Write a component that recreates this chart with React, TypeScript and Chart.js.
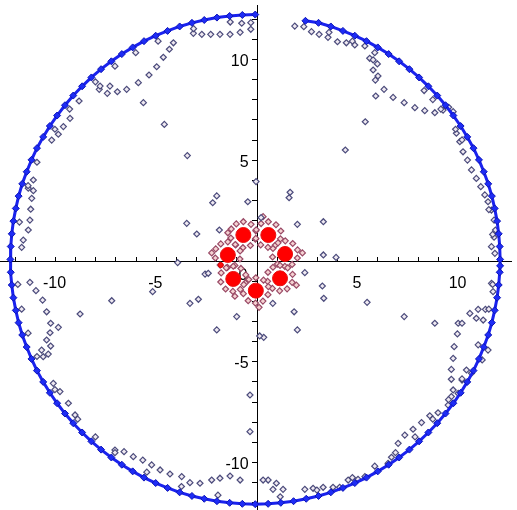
import React, { useEffect, useRef } from 'react';
import { Chart, registerables } from 'chart.js';

Chart.register(...registerables);

// Axis ranges (data units)
const X_MIN = -12.754;
const X_MAX = 12.6;
const Y_MIN = -12.357;
const Y_MAX = 12.705;

// Labelled ticks
const X_TICK_LABELS = [-10, -5, 5, 10];
const Y_TICK_LABELS = [-10, -5, 5, 10];
const ORIGIN_LABEL = [0];

// Blue filled points on the outer circle (counter-clockwise from the top)
const BLUE_RING: number[][] = [
  [-0.09, 12.23], [-0.73, 12.21], [-1.36, 12.16], [-1.99, 12.08], [-2.62, 11.96], [-3.23, 11.82],
  [-3.84, 11.64], [-4.44, 11.42], [-5.03, 11.18], [-5.61, 10.91], [-6.17, 10.6], [-6.71, 10.27],
  [-7.23, 9.91], [-7.74, 9.52], [-8.22, 9.11], [-8.68, 8.67], [-9.12, 8.21], [-9.53, 7.73],
  [-9.92, 7.22], [-10.28, 6.7], [-10.61, 6.16], [-10.92, 5.6], [-11.19, 5.02], [-11.43, 4.43],
  [-11.65, 3.83], [-11.83, 3.22], [-11.97, 2.61], [-12.09, 1.98], [-12.17, 1.35], [-12.22, 0.72],
  [-12.24, 0.08], [-12.22, -0.56], [-12.17, -1.19], [-12.09, -1.82], [-11.97, -2.45], [-11.83, -3.06],
  [-11.65, -3.67], [-11.43, -4.27], [-11.19, -4.86], [-10.92, -5.44], [-10.61, -6.0], [-10.28, -6.54],
  [-9.92, -7.06], [-9.53, -7.57], [-9.12, -8.05], [-8.68, -8.51], [-8.22, -8.95], [-7.74, -9.36],
  [-7.23, -9.75], [-6.71, -10.11], [-6.17, -10.44], [-5.61, -10.75], [-5.03, -11.02], [-4.44, -11.26],
  [-3.84, -11.48], [-3.23, -11.66], [-2.62, -11.8], [-1.99, -11.92], [-1.36, -12.0], [-0.73, -12.05],
  [-0.09, -12.07], [0.55, -12.05], [1.18, -12.0], [1.81, -11.92], [2.44, -11.8], [3.05, -11.66],
  [3.66, -11.48], [4.26, -11.26], [4.85, -11.02], [5.43, -10.75], [5.99, -10.44], [6.53, -10.11],
  [7.05, -9.75], [7.56, -9.36], [8.04, -8.95], [8.5, -8.51], [8.94, -8.05], [9.35, -7.57],
  [9.74, -7.06], [10.1, -6.54], [10.43, -6.0], [10.74, -5.44], [11.01, -4.86], [11.25, -4.27],
  [11.47, -3.67], [11.65, -3.06], [11.79, -2.45], [11.91, -1.82], [11.99, -1.19], [12.04, -0.56],
  [12.06, -0.24], [12.06, 0.08], [12.04, 0.72], [11.99, 1.35], [11.91, 1.98], [11.79, 2.61],
  [11.65, 3.22], [11.47, 3.83], [11.25, 4.43], [11.01, 5.02], [10.74, 5.6], [10.43, 6.16],
  [10.1, 6.7], [9.74, 7.22], [9.35, 7.73], [8.94, 8.21], [8.5, 8.67], [8.04, 9.11],
  [7.56, 9.52], [7.05, 9.91], [6.53, 10.27], [5.99, 10.6], [5.43, 10.91], [4.85, 11.18],
  [4.26, 11.42], [3.66, 11.64], [3.05, 11.82], [2.4, 11.92],
];

// Hollow diamonds lying in the blue band
const GRAY_BAND: number[][] = [
  [10.17, 6.01], [9.85, 6.54], [9.12, 7.54], [8.72, 8.01], [8.29, 8.46], [5.84, 10.34],
  [4.73, 10.91], [3.57, 11.35], [11.69, 1.32], [11.5, 2.55],
  [-1.33, 11.86], [-3.15, 11.53], [-4.91, 10.91], [-6.02, 10.34], [-7.05, 9.67], [-8.02, 8.89],
  [-9.3, 7.54], [-10.03, 6.54], [-10.92, 4.9], [-11.36, 3.74], [-11.79, 1.93],
  [-11.87, -1.16], [-11.68, -2.39], [-11.36, -3.58], [-10.92, -4.74], [-10.03, -6.38], [-8.9, -7.85],
  [-8.02, -8.73], [-7.05, -9.51], [-5.47, -10.48], [-3.75, -11.19], [-1.94, -11.62],
  [1.15, -11.7], [2.97, -11.37], [4.73, -10.75], [5.84, -10.18], [6.87, -9.51], [7.84, -8.73],
  [8.72, -7.85], [9.5, -6.88], [10.17, -5.85], [10.97, -4.16], [11.5, -2.39], [11.69, -1.16],
];

// Hollow diamonds inside the ring, upper left
const GRAY_NW: number[][] = [
  [-3.16, 11.3], [-2.74, 11.25], [-2.3, 11.25], [-1.84, 11.25], [-1.34, 11.25], [-0.84, 11.35],
  [-0.31, 11.5], [-0.76, 11.8], [-0.31, 11.83],
  [-4.15, 10.83], [-4.35, 10.51], [-4.65, 10.11], [-4.98, 9.64], [-5.36, 9.23], [-5.89, 8.85],
  [-6.47, 8.52], [-6.93, 8.4], [-7.43, 8.32], [-7.83, 8.52], [-7.3, 8.68], [-7.79, 8.68],
  [-5.64, 7.86], [-4.6, 6.78], [-3.46, 5.23],
  [-8.83, 7.94], [-9.28, 7.08], [-9.61, 6.67], [-9.86, 6.29], [-10.19, 6.0],
  [-11.1, 4.02], [-11.35, 3.61], [-11.1, 3.49], [-11.18, 3.11], [-11.23, 2.57], [-11.27, 2.03],
  [-11.35, 1.54], [-11.6, 1.04], [-11.68, 0.68],
];

// Hollow diamonds inside the ring, upper right
const GRAY_NE: number[][] = [
  [1.87, 11.66], [2.32, 11.63],
  [2.7, 11.38], [3.08, 11.25], [3.52, 11.1], [3.99, 10.88], [4.43, 10.83], [4.85, 10.72], [5.35, 10.67],
  [5.59, 10.06], [5.76, 9.98], [5.97, 9.78], [5.76, 9.48], [6.0, 9.18], [5.87, 8.98], [6.3, 8.52], [5.89, 8.19],
  [6.75, 8.12], [7.3, 7.86], [7.83, 7.61], [8.32, 7.46], [8.82, 7.36], [9.23, 7.49], [9.51, 7.63], [9.73, 7.41],
  [5.37, 6.91], [4.38, 5.51],
  [9.89, 6.34], [10.06, 5.92], [10.22, 5.42], [10.44, 5.01], [10.64, 4.52], [10.88, 4.1], [11.1, 3.69],
  [11.3, 3.28], [11.46, 2.94], [11.63, 2.53], [11.76, 2.03], [11.83, 1.54], [11.76, 1.18], [11.63, 0.71],
  [11.8, 0.38],
];

// Hollow diamonds inside the ring, lower right
const GRAY_SE: number[][] = [
  [3.29, 0.3], [3.92, 0.18], [2.37, -0.58], [3.24, -1.24], [3.31, -1.85], [1.84, -2.52], [2.0, -3.42],
  [0.33, -3.79], [0.13, -3.72], [5.46, -2.05], [7.3, -2.76], [8.82, -3.09],
  [9.98, -3.09], [10.17, -3.09], [9.94, -3.62], [9.78, -4.25], [9.73, -4.83], [9.64, -5.38], [9.64, -5.87],
  [9.73, -6.4], [9.64, -6.73], [9.48, -7.15],
  [10.56, -2.6], [10.97, -2.4], [11.33, -2.4], [10.88, -2.84], [11.22, -2.93],
  [11.63, -1.11], [11.71, -1.52], [11.46, -4.42], [11.17, -4.91], [10.64, -5.57], [10.39, -5.41],
  [10.17, -5.91], [9.98, -6.57],
  [8.98, -7.53], [8.57, -7.68], [8.16, -8.02], [7.74, -8.35], [7.33, -8.64], [7.0, -9.05], [6.67, -9.74],
  [6.5, -10.04], [5.35, -10.7], [5.01, -10.83], [4.52, -10.87], [4.1, -11.23], [3.77, -11.23], [3.28, -11.23],
  [2.78, -11.28], [2.37, -11.33], [1.29, -11.33], [0.79, -11.33], [0.96, -11.03], [0.55, -10.87], [0.3, -10.87],
];

// Hollow diamonds inside the ring, lower left
const GRAY_SW: number[][] = [
  [-5.18, -1.52], [-7.21, -1.97], [-8.78, -2.63], [-3.33, -2.1], [-2.91, -1.9], [-2.0, -3.42], [-1.01, -2.76],
  [-0.35, -6.65], [-0.35, -8.47],
  [-11.27, -1.06], [-10.97, -1.47], [-10.64, -1.94], [-10.44, -2.52], [-10.24, -3.09], [-9.86, -3.29],
  [-10.27, -3.56], [-10.44, -3.92], [-10.24, -4.22], [-10.69, -4.42], [-10.36, -4.62], [-10.61, -4.75],
  [-10.11, -6.07], [-9.78, -6.48], [-9.36, -7.06], [-9.03, -7.64],
  [-7.05, -9.38], [-6.6, -9.46], [-6.14, -9.71], [-5.67, -9.88], [-5.23, -10.12], [-4.81, -10.37],
  [-4.32, -10.57], [-3.74, -10.7], [-3.33, -11.0], [-2.83, -11.03], [-2.25, -10.87], [-1.84, -10.78],
  [-1.34, -10.67], [-0.84, -10.87],
];

// Hollow diamonds scattered near the centre
const GRAY_CENTER: number[][] = [
  [-0.05, 3.94], [-2.0, 3.23], [-2.2, 2.89], [-0.46, 2.94], [1.64, 3.41], [1.59, 3.14], [-3.49, 1.87],
  [-2.99, 1.34], [-1.87, 1.54], [3.29, 1.95], [2.0, 1.82], [-3.94, -0.08], [-2.58, -0.65], [0.78, -2.1],
  [0.2, 2.15], [-2.42, -0.61],
];

// Red filled clusters (seven centres)
const RED_BLOBS: number[][] = [
  [-0.68, 1.29], [0.56, 1.29], [1.39, 0.35], [-1.45, 0.3], [-1.18, -0.89], [1.14, -0.86], [-0.06, -1.47],
];
const RED_DOT: number[][] = [[-1.8, -0.2]];

// Small diamonds surrounding the red clusters
const RED_RING: number[][] = [
  [-1.28, 1.59], [-1.03, 1.84], [-0.68, 1.95], [-0.3, 1.82], [-0.06, 1.5], [-0.08, 1.08], [-0.33, 0.77],
  [-0.7, 0.66], [-1.06, 0.8], [-1.3, 1.14], [-1.45, 1.4],
  [-0.04, 1.55], [0.2, 1.86], [0.56, 1.95], [0.94, 1.8], [1.18, 1.49], [1.16, 1.1], [0.9, 0.78],
  [0.54, 0.68], [0.18, 0.8], [-0.06, 1.12], [0.3, 2.2],
  [0.79, 0.62], [1.04, 0.9], [1.4, 1.0], [1.77, 0.87], [2.01, 0.55], [2.0, 0.15], [1.74, -0.17],
  [1.38, -0.27], [1.01, -0.15], [0.77, 0.2], [2.25, 0.4],
  [-2.05, 0.6], [-1.8, 0.85], [-1.45, 0.95], [-1.08, 0.82], [-0.84, 0.5], [-0.85, 0.1], [-1.1, -0.22],
  [-1.47, -0.32], [-1.83, -0.2], [-2.07, 0.15], [-2.25, 0.4],
  [-1.78, -0.59], [-1.53, -0.34], [-1.18, -0.26], [-0.8, -0.37], [-0.56, -0.69], [-0.58, -1.09],
  [-0.83, -1.41], [-1.2, -1.51], [-1.56, -1.39], [-1.8, -1.04], [-1.1, -1.75],
  [0.54, -0.56], [0.79, -0.31], [1.14, -0.22], [1.52, -0.34], [1.76, -0.66], [1.74, -1.06],
  [1.49, -1.38], [1.12, -1.48], [0.76, -1.36], [0.52, -1.01], [1.95, -1.2],
  [-0.66, -1.17], [-0.41, -0.92], [-0.06, -0.83], [0.32, -0.95], [0.56, -1.27], [0.54, -1.67],
  [0.29, -1.99], [-0.08, -2.09], [-0.44, -1.97], [-0.68, -1.62], [0.1, -2.3],
];

const toPts = (a: number[][]) => a.map(([x, y]) => ({ x, y }));

export default function App() {
  const ref = useRef<HTMLCanvasElement>(null);

  useEffect(() => {
    document.body.style.margin = '0';
    const font = { family: "'Liberation Sans', Arial, sans-serif", size: 16 };
    const noPad = (s: any) => {
      s.paddingLeft = 0;
      s.paddingRight = 0;
      s.paddingTop = 0;
      s.paddingBottom = 0;
    };
    const zeroH = (s: any) => { s.height = 0; noPad(s); };
    const zeroW = (s: any) => { s.width = 0; noPad(s); };

    const grayStyle = {
      pointStyle: 'rectRot' as const,
      pointRadius: 3,
      pointBorderWidth: 1.2,
      pointBorderColor: '#4c4c7c',
      pointBackgroundColor: '#efe9f1',
      showLine: false,
    };

    const chart = new Chart(ref.current!, {
      type: 'scatter',
      data: {
        datasets: [
          {
            label: 'dot',
            data: toPts(RED_DOT),
            pointStyle: 'circle',
            pointRadius: 2.5,
            pointBackgroundColor: '#ff1010',
            pointBorderColor: '#e00000',
            showLine: false,
          },
          {
            label: 'blobs',
            data: toPts(RED_BLOBS),
            pointStyle: 'circle',
            pointRadius: 7.5,
            pointBackgroundColor: '#ff0000',
            pointBorderColor: '#e81010',
            pointBorderWidth: 1,
            showLine: false,
          },
          {
            label: 'ring',
            data: toPts(BLUE_RING),
            showLine: true,
            borderColor: '#1a22ee',
            borderWidth: 3,
            pointStyle: 'rectRot',
            pointRadius: 3.5,
            pointBorderWidth: 1,
            pointBorderColor: '#0c14b8',
            pointBackgroundColor: '#1e2cf5',
          },
          { label: 'band', data: toPts(GRAY_BAND), ...grayStyle },
          { label: 'nw', data: toPts(GRAY_NW), ...grayStyle },
          { label: 'ne', data: toPts(GRAY_NE), ...grayStyle },
          { label: 'se', data: toPts(GRAY_SE), ...grayStyle },
          { label: 'sw', data: toPts(GRAY_SW), ...grayStyle },
          { label: 'center', data: toPts(GRAY_CENTER), ...grayStyle },
          {
            label: 'redring',
            data: toPts(RED_RING),
            ...grayStyle,
            pointBorderColor: '#9a4a66',
            pointBackgroundColor: '#f5d2d2',
          },
        ],
      },
      options: {
        animation: false,
        responsive: false,
        events: [],
        layout: { autoPadding: false, padding: { left: 0, right: 6, top: 5, bottom: 0 } },
        plugins: { legend: { display: false }, tooltip: { enabled: false } },
        scales: {
          x: {
            type: 'linear',
            min: X_MIN,
            max: X_MAX,
            position: { y: 0 },
            afterFit: zeroH,
            ticks: { display: false, stepSize: 1, includeBounds: false, autoSkip: false },
            grid: { drawOnChartArea: false, drawTicks: true, tickLength: -5, color: '#000', lineWidth: 1 },
            border: { display: true, color: '#000', width: 1 },
          },
          y: {
            type: 'linear',
            min: Y_MIN,
            max: Y_MAX,
            position: { x: 0 },
            afterFit: zeroW,
            ticks: { display: false, stepSize: 1, includeBounds: false, autoSkip: false },
            grid: { drawOnChartArea: false, drawTicks: true, tickLength: 5, color: '#000', lineWidth: 1 },
            border: { display: true, color: '#000', width: 1 },
          },
          xl: {
            type: 'linear',
            axis: 'x',
            min: X_MIN,
            max: X_MAX,
            position: { y: 0 },
            afterFit: zeroH,
            afterBuildTicks: (s: any) => { s.ticks = X_TICK_LABELS.map((v) => ({ value: v })); },
            ticks: { display: true, autoSkip: false, maxRotation: 0, padding: 5, labelOffset: -1, color: '#000', font },
            grid: { display: false },
            border: { display: false },
          },
          x0: {
            type: 'linear',
            axis: 'x',
            min: X_MIN + 0.7,
            max: X_MAX + 0.7,
            position: { y: 0 },
            afterFit: zeroH,
            afterBuildTicks: (s: any) => { s.ticks = ORIGIN_LABEL.map((v) => ({ value: v })); },
            ticks: { display: true, autoSkip: false, maxRotation: 0, padding: -3, color: '#000', font },
            grid: { display: false },
            border: { display: false },
          },
          yl: {
            type: 'linear',
            axis: 'y',
            min: Y_MIN,
            max: Y_MAX,
            position: { x: -0.42 },
            afterFit: zeroW,
            afterBuildTicks: (s: any) => { s.ticks = Y_TICK_LABELS.map((v) => ({ value: v })); },
            ticks: { display: true, autoSkip: false, labelOffset: 2, color: '#000', font },
            grid: { display: false },
            border: { display: false },
          },
        },
      } as any,
    });
    return () => chart.destroy();
  }, []);

  return (
    <div style={{ position: 'absolute', left: 0, top: 0, width: 517, height: 510, background: '#fff' }}>
      <canvas ref={ref} width={517} height={510} style={{ display: 'block' }} />
    </div>
  );
}
